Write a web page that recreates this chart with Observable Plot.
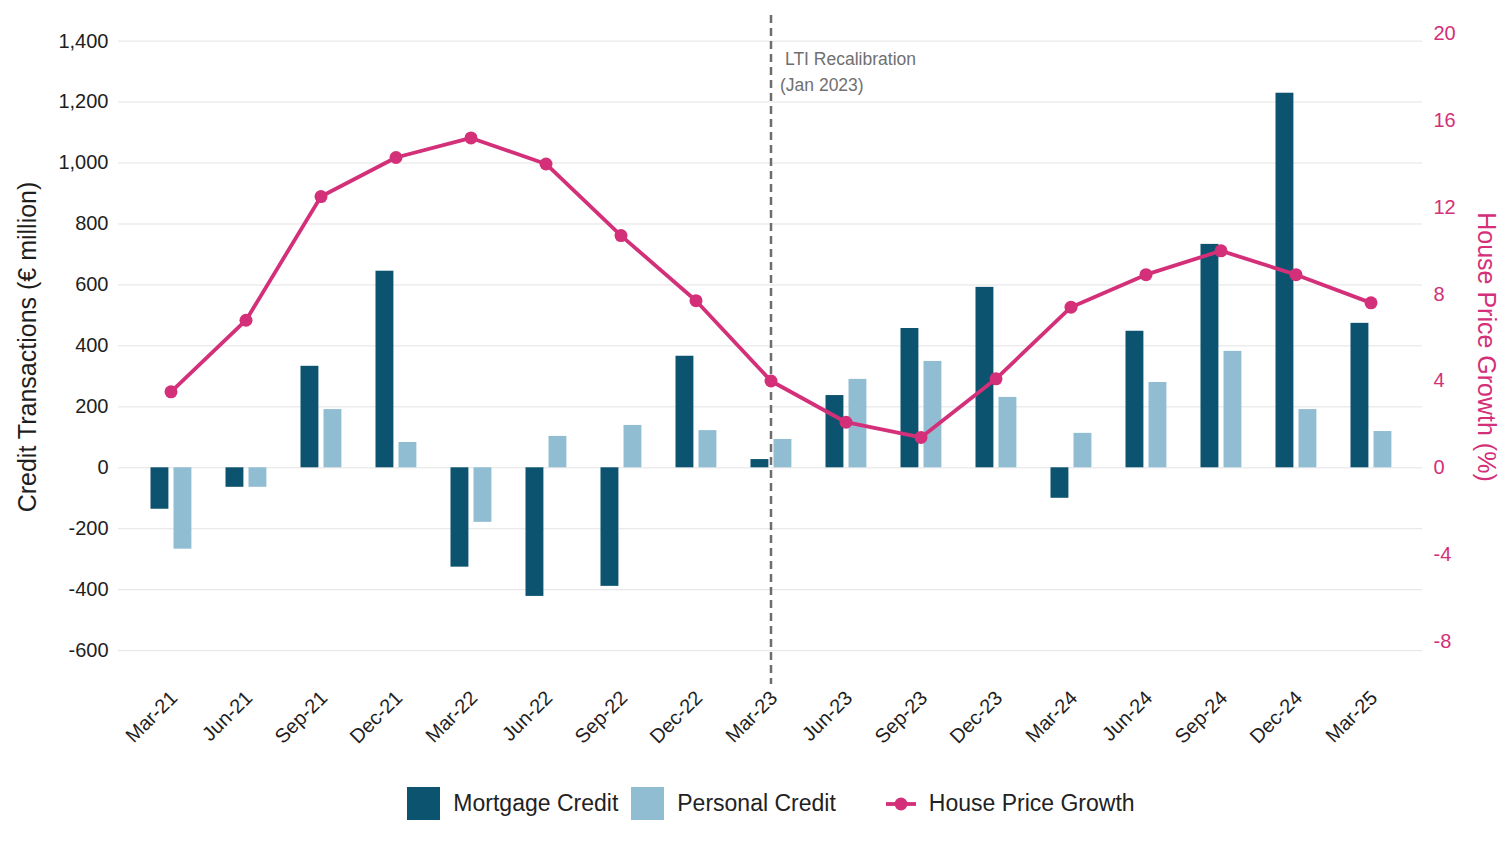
<!DOCTYPE html>
<html>
<head>
<meta charset="utf-8">
<script src="https://cdn.jsdelivr.net/npm/d3@7"></script>
<script src="https://cdn.jsdelivr.net/npm/@observablehq/plot@0.6"></script>
<style>
  html, body { margin: 0; padding: 0; background: #fff; }
  body { font-family: "Liberation Sans", Arial, sans-serif; width: 1512px; }
  #legend { display: flex; align-items: center; justify-content: center; padding-left: 30px; margin-top: 17px; font-size: 23px; color: #222; }
  .sw { width: 33px; height: 33px; display: inline-block; }
  .lab { margin-left: 13px; }
</style>
</head>
<body>
<div id="chart"></div>
<div id="legend">
  <span class="sw" style="background:#0c5370"></span><span class="lab">Mortgage Credit</span>
  <span class="sw" style="background:#91bdd3; margin-left:13px"></span><span class="lab">Personal Credit</span>
  <svg width="30" height="14" style="margin-left:50px"><line x1="0" y1="7" x2="30" y2="7" stroke="#d33079" stroke-width="3.8"/><circle cx="15" cy="7" r="6.5" fill="#d33079"/></svg><span class="lab">House Price Growth</span>
</div>
<script>
const dates = ["Mar-21","Jun-21","Sep-21","Dec-21","Mar-22","Jun-22","Sep-22","Dec-22","Mar-23","Jun-23","Sep-23","Dec-23","Mar-24","Jun-24","Sep-24","Dec-24","Mar-25"];
const mortgage = [-136,-64,333,645,-326,-422,-389,366,27,237,457,592,-100,448,733,1229,474];
const personal = [-267,-64,191,83,-179,103,139,122,93,290,349,231,113,280,382,191,119];
const housePriceGrowth = [3.5,6.8,12.5,14.3,15.2,14.0,10.7,7.7,4.0,2.1,1.4,4.1,7.4,8.9,10.0,8.9,7.6];
const leftTicks = [-600,-400,-200,0,200,400,600,800,1000,1200,1400];
const rightTicks = [-8,-4,0,4,8,12,16,20];
const annotations = [{date: "Mar-23", line1: "LTI Recalibration", line2: "(Jan 2023)"}];

const MORT = "#0c5370", PERS = "#91bdd3", MAG = "#d33079";
const K = 71.2; // right-axis (%) to left-axis (€m) ratio

const data = dates.map((d, i) => ({date: d, mortgage: mortgage[i], personal: personal[i], hpg: housePriceGrowth[i]}));

const chart = Plot.plot({
  width: 1512,
  height: 770,
  marginLeft: 118,
  marginRight: 90,
  marginTop: 15,
  marginBottom: 86,
  style: {fontFamily: "'Liberation Sans', Arial, sans-serif", fontSize: "20px", color: "#1e1e1e", background: "white"},
  x: {type: "band", domain: dates, paddingInner: 0, paddingOuter: 0.18},
  y: {domain: [-711, 1484]},
  marks: [
    Plot.gridY(leftTicks, {stroke: "#e3e3e3", strokeOpacity: 1, strokeWidth: 1}),
    Plot.axisY(leftTicks, {anchor: "left", tickSize: 0, tickPadding: 10, fontSize: 20, fill: "#1e1e1e", tickFormat: d => d.toLocaleString("en-US"), label: null}),
    Plot.axisY(rightTicks, {anchor: "right", y: d => d * K, tickSize: 0, tickPadding: 11, fontSize: 20, fill: MAG, tickFormat: d => String(d), label: null}),
    Plot.axisX({tickRotate: -45, tickSize: 0, tickPadding: 10, dx: 3, fontSize: 20, fill: "#1e1e1e", label: null}),
    Plot.barY(data, {x: "date", y: "mortgage", fill: MORT, insetLeft: 17.5, insetRight: 39.6}),
    Plot.barY(data, {x: "date", y: "personal", fill: PERS, insetLeft: 40.5, insetRight: 16.6}),
    Plot.ruleX(annotations, {x: "date", stroke: "#6e6e6e", strokeWidth: 2.5, strokeDasharray: "8,5"}),
    Plot.line(data, {x: "date", y: d => d.hpg * K, stroke: MAG, strokeWidth: 3.8}),
    Plot.dot(data, {x: "date", y: d => d.hpg * K, r: 6.5, fill: MAG}),
    Plot.text(annotations, {x: "date", text: "line1", frameAnchor: "top", dy: 37, dx: 14, textAnchor: "start", fill: "#707070", fontSize: 17.5}),
    Plot.text(annotations, {x: "date", text: "line2", frameAnchor: "top", dy: 63, dx: 9, textAnchor: "start", fill: "#707070", fontSize: 17.5}),
    Plot.text(["Credit Transactions (€ million)"], {text: d => d, frameAnchor: "left", textAnchor: "middle", dx: -91, dy: -3, rotate: -90, fontSize: 25, fill: "#1e1e1e"}),
    Plot.text(["House Price Growth (%)"], {text: d => d, frameAnchor: "right", textAnchor: "middle", dx: 63, dy: -3, rotate: 90, fontSize: 25, fill: MAG})
  ]
});
document.getElementById("chart").appendChild(chart);
</script>
</body>
</html>
